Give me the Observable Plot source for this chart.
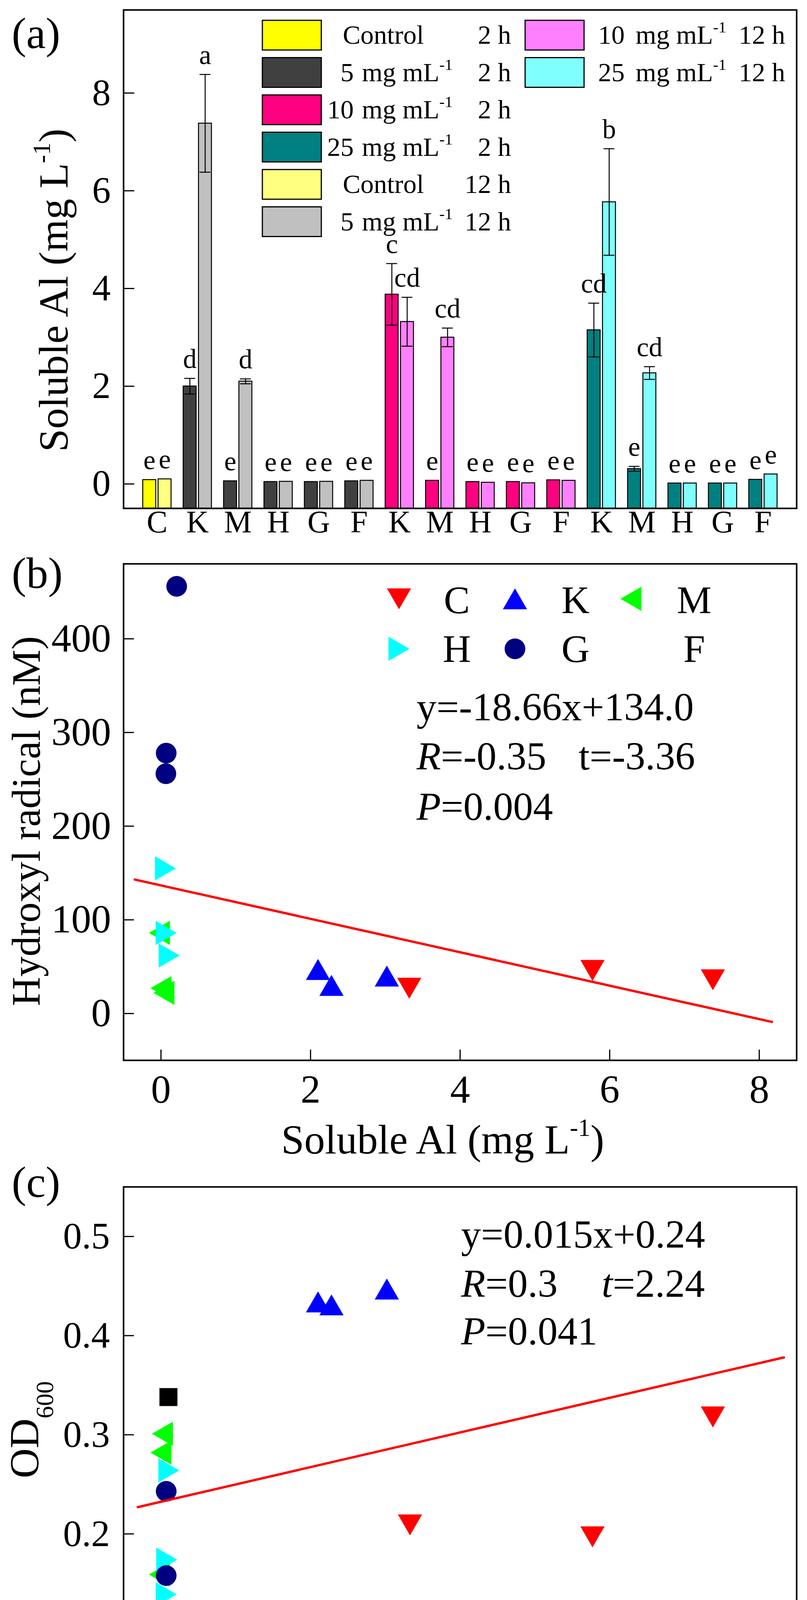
<!DOCTYPE html>
<html>
<head>
<meta charset="utf-8">
<script src="https://cdn.jsdelivr.net/npm/d3@7"></script>
<script src="https://cdn.jsdelivr.net/npm/@observablehq/plot@0.6"></script>
<style>
  body { margin: 0; background: white; }
  #chart { width: 2067px; background: white; }
  #chart svg { display: block; overflow: visible; }
</style>
</head>
<body>
<div id="chart"></div>
<script>
// ---------- (a) soluble Al, bars ----------
const groups = ["C", "K", "M", "H", "G", "F", "K", "M", "H", "G", "F", "K", "M", "H", "G", "F"];
const doses  = ["Control", "5", "5", "5", "5", "5", "10", "10", "10", "10", "10", "25", "25", "25", "25", "25"];
const al2h   = [0.085, 2.0, 0.06, 0.045, 0.045, 0.06, 3.88, 0.07, 0.045, 0.045, 0.08, 3.15, 0.31, 0.015, 0.015, 0.09];
const al12h  = [0.1, 7.38, 2.1, 0.05, 0.05, 0.07, 3.32, 3.0, 0.03, 0.02, 0.07, 5.77, 2.27, 0.015, 0.015, 0.2];
const sd2h   = [0, 0.16, 0, 0, 0, 0, 0.63, 0, 0, 0, 0, 0.55, 0.05, 0, 0, 0];
const sd12h  = [0, 1.0, 0.05, 0, 0, 0, 0.5, 0.19, 0, 0, 0, 1.09, 0.13, 0, 0, 0];
const sig2h  = ["e", "d", "e", "e", "e", "e", "c", "e", "e", "e", "e", "cd", "e", "e", "e", "e"];
const sig12h = ["e", "a", "d", "e", "e", "e", "cd", "cd", "e", "e", "e", "b", "cd", "e", "e", "e"];
const doseLevels = ["Control", "5", "10", "25"];
const times = ["2 h", "12 h"];
const colors2h  = ["#ffff00", "#404040", "#ff0080", "#008080"];
const colors12h = ["#ffff80", "#c0c0c0", "#ff80ff", "#80ffff"];
const yTicksA = [0, 2, 4, 6, 8];

// ---------- (b), (c) scatter ----------
const ptNames  = ["C", "K", "M", "H", "G", "F"];
const ptColors = ["#ff0000", "#0000ff", "#00ff00", "#00ffff", "#000080", "#000000"];
// hydroxyl radical (nM) vs soluble Al
const ohX = [[3.32, 5.77, 7.38], [2.1, 2.28, 3.02], [-0.02, 0.0, 0.04], [0.06, 0.07, 0.11], [0.21, 0.07, 0.066], []];
const ohY = [[27, 46, 36], [47, 30, 40], [86, 27, 22], [155, 86, 62], [456, 278, 256], []];
// OD600 vs soluble Al
const odX = [[3.33, 5.77, 7.38], [2.1, 2.28, 3.02], [0.02, 0.0, -0.02], [0.105, 0.077, 0.07], [0.07, 0.07, 0.21], [0.1]];
const odY = [[0.209, 0.197, 0.318], [0.434, 0.431, 0.447], [0.301, 0.282, 0.159], [0.264, 0.174, 0.139], [0.243, 0.158, 0.09], [0.338]];
// fitted lines, end points as drawn
const fitBx = [-0.35, 8.17], fitBy = [143, -9];
const fitCx = [-0.31, 8.33], fitCy = [0.227, 0.378];
const xTicksBC = [0, 2, 4, 6, 8];
const yTicksB = [0, 100, 200, 300, 400];
const yTicksC = [0.1, 0.2, 0.3, 0.4, 0.5];

// custom marker shapes (Origin style)
function tri(dir) {
  return {
    draw(ctx, size) {
      const r = Math.sqrt(size / Math.PI), s = 2.34 * r, h = 0.866 * s;
      if (dir === "up") { ctx.moveTo(0, -h / 2); ctx.lineTo(s / 2, h / 2); ctx.lineTo(-s / 2, h / 2); }
      if (dir === "down") { ctx.moveTo(0, h / 2); ctx.lineTo(s / 2, -h / 2); ctx.lineTo(-s / 2, -h / 2); }
      if (dir === "left") { ctx.moveTo(-h / 2, 0); ctx.lineTo(h / 2, -s / 2); ctx.lineTo(h / 2, s / 2); }
      if (dir === "right") { ctx.moveTo(h / 2, 0); ctx.lineTo(-h / 2, -s / 2); ctx.lineTo(-h / 2, s / 2); }
      ctx.closePath();
    }
  };
}
const roundSym = {draw(ctx, size) { const r = Math.sqrt(size / Math.PI); ctx.moveTo(r, 0); ctx.arc(0, 0, r, 0, 2 * Math.PI); }};
const squareSym = {draw(ctx, size) { const a = 1.74 * Math.sqrt(size / Math.PI); ctx.rect(-a / 2, -a / 2, a, a); }};
const ptSymbols = [tri("down"), tri("up"), tri("left"), tri("right"), roundSym, squareSym];
const dotR = 26.5;

const font = "Liberation Serif";
const W = 2067, mL = 316, mR = 27;
const plotW = W - mL - mR;
const plotStyle = {fontFamily: font, background: "transparent", color: "black", overflow: "visible"};

// text with italic / sup / sub pieces
function rich(sel, parts, size) {
  let shift = 0;
  parts.forEach(p => {
    const [str, kind] = typeof p === "string" ? [p, ""] : p;
    const t = sel.append("tspan").text(str);
    let target = 0;
    if (kind === "sup") target = -0.42 * size;
    if (kind === "sub") target = 0.36 * size;
    if (target !== shift) { t.attr("dy", target - shift); shift = target; }
    if (kind === "sup" || kind === "sub") t.attr("font-size", 0.6 * size);
    if (kind === "i") t.attr("font-style", "italic");
  });
}
function label(svg, x, y, parts, size, opts = {}) {
  const t = d3.select(svg).append("text")
    .attr("font-family", font)
    .attr("font-size", size)
    .attr("fill", "black")
    .attr("text-anchor", opts.anchor || "start")
    .style("white-space", "pre")
    .attr("transform", `translate(${x},${y})` + (opts.rotate ? " rotate(-90)" : ""));
  rich(t, parts, size);
  return t;
}

// ---------- panel (a) ----------
const hA = 1391, mTA = 25, mBA = 90;
const yDomA = [-0.5, 9.7];
const padIn = 0.3, padOut = 0.48;
const stepA = plotW / (groups.length - padIn + 2 * padOut);
const bandA = stepA * (1 - padIn);
const gapA = 6, capA = 28;
const barW = bandA / 2 - gapA / 2;
const shift = gapA / 2 + barW / 2;
const capIn = bandA / 2 - shift - capA / 2;
const capOut = bandA - capIn - capA;

const colorKeys = [], colorRange = [];
times.forEach((t, ti) => doseLevels.forEach((d, di) => {
  colorKeys.push(d + " " + t);
  colorRange.push(ti === 0 ? colors2h[di] : colors12h[di]);
}));

const rows2h = groups.map((g, i) => ({i, key: doses[i] + " 2 h", value: al2h[i], sd: sd2h[i], sig: sig2h[i]}));
const rows12h = groups.map((g, i) => ({i, key: doses[i] + " 12 h", value: al12h[i], sd: sd12h[i], sig: sig12h[i]}));
const err2h = rows2h.filter(d => d.sd > 0);
const err12h = rows12h.filter(d => d.sd > 0);

const chartA = Plot.plot({
  width: W, height: hA,
  marginLeft: mL, marginRight: mR, marginTop: mTA, marginBottom: mBA,
  style: plotStyle,
  x: {type: "band", domain: d3.range(groups.length), paddingInner: padIn, paddingOuter: padOut, round: false, axis: null},
  y: {domain: yDomA, axis: null},
  color: {domain: colorKeys, range: colorRange},
  marks: [
    Plot.barY(rows2h, {x: "i", y1: yDomA[0], y2: "value", fill: "key", stroke: "black", strokeWidth: 2.5, insetRight: bandA / 2 + gapA / 2}),
    Plot.barY(rows12h, {x: "i", y1: yDomA[0], y2: "value", fill: "key", stroke: "black", strokeWidth: 2.5, insetLeft: bandA / 2 + gapA / 2}),
    Plot.ruleX(err2h, {x: "i", y1: d => d.value - d.sd, y2: d => d.value + d.sd, dx: -shift, strokeWidth: 2.5}),
    Plot.ruleX(err12h, {x: "i", y1: d => d.value - d.sd, y2: d => d.value + d.sd, dx: shift, strokeWidth: 2.5}),
    Plot.tickY(err2h, {x: "i", y: d => d.value + d.sd, insetLeft: capIn, insetRight: capOut, strokeWidth: 2.5}),
    Plot.tickY(err2h, {x: "i", y: d => d.value - d.sd, insetLeft: capIn, insetRight: capOut, strokeWidth: 2.5}),
    Plot.tickY(err12h, {x: "i", y: d => d.value + d.sd, insetLeft: capOut, insetRight: capIn, strokeWidth: 2.5}),
    Plot.tickY(err12h, {x: "i", y: d => d.value - d.sd, insetLeft: capOut, insetRight: capIn, strokeWidth: 2.5}),
    Plot.text(rows2h, {x: "i", y: d => d.value + d.sd, text: "sig", dx: -shift, dy: -27, lineAnchor: "bottom", fontSize: 70}),
    Plot.text(rows12h, {x: "i", y: d => d.value + d.sd, text: "sig", dx: shift, dy: -27, lineAnchor: "bottom", fontSize: 70}),
    Plot.tickY(yTicksA, {y: d => d, insetRight: plotW - 28, strokeWidth: 3}),
    Plot.axisY(yTicksA, {tickSize: 0, tickPadding: 33, tickFormat: d3.format("~g"), fontSize: 95, label: null}),
    Plot.axisX({tickSize: 0, tickPadding: 5, tickFormat: i => groups[i], fontSize: 80, label: null}),
    Plot.frame({strokeWidth: 4})
  ]
});

// legend of (a): first six in one column, last two in a second
colorKeys.forEach((k, j) => {
  const col = j < 6 ? 0 : 1, row = j < 6 ? j : j - 6;
  const top = 52 + row * 95.5, base = top + 60;
  const [dose, ...rest] = k.split(" ");
  const time = rest.join(" ");
  d3.select(chartA).append("rect")
    .attr("x", col ? 1345 : 672).attr("y", top)
    .attr("width", 151).attr("height", 76)
    .attr("fill", colorRange[j]).attr("stroke", "black").attr("stroke-width", 3);
  if (dose === "Control") {
    label(chartA, 878, base, ["Control"], 68);
  } else {
    label(chartA, col ? 1600 : 906, base, [dose], 68, {anchor: "end"});
    label(chartA, col ? 1628 : 927, base, ["mg mL", ["-1", "sup"]], 68);
  }
  label(chartA, col ? 2011 : 1309, base, [time], 68, {anchor: "end"});
});
label(chartA, 30, 123, ["(a)"], 112);
label(chartA, 173, 743, ["Soluble Al (mg L", ["-1", "sup"], ")"], 106, {anchor: "middle", rotate: true});

// ---------- panels (b), (c) ----------
function scatter({height, marginTop, marginBottom, yDomain, yTicks, xs, ys, fitX, fitY, tickFont, tickPadX, tickPadY}) {
  const plotH = height - marginTop - marginBottom;
  const dots = ptNames.map((n, j) => Plot.dot(xs[j].map((x, k) => ({x, y: ys[j][k]})), {
    x: "x", y: "y", r: dotR, symbol: ptSymbols[j], fill: ptColors[j], stroke: "none"
  }));
  return Plot.plot({
    width: W, height,
    marginLeft: mL, marginRight: mR, marginTop, marginBottom,
    style: plotStyle,
    x: {domain: [-0.5, 8.5], axis: null},
    y: {domain: yDomain, axis: null},
    marks: [
      ...dots,
      Plot.line(fitX.map((x, k) => ({x, y: fitY[k]})), {x: "x", y: "y", stroke: "#ff0000", strokeWidth: 6}),
      Plot.tickY(yTicks, {y: d => d, insetRight: plotW - 27, strokeWidth: 3}),
      Plot.tickX(xTicksBC, {x: d => d, insetTop: plotH - 27, strokeWidth: 3}),
      Plot.axisY(yTicks, {tickSize: 0, tickPadding: tickPadY, tickFormat: d3.format("~g"), fontSize: tickFont, label: null}),
      Plot.axisX(xTicksBC, {tickSize: 0, tickPadding: tickPadX, tickFormat: d3.format("~g"), fontSize: tickFont, label: null}),
      Plot.frame({strokeWidth: 4})
    ]
  });
}

const chartB = scatter({
  height: 1584, marginTop: 52, marginBottom: 261,
  yDomain: [-50, 480], yTicks: yTicksB, xs: ohX, ys: ohY, fitX: fitBx, fitY: fitBy,
  tickFont: 102, tickPadX: 36, tickPadY: 32
});
// legend of (b)
ptNames.forEach((n, j) => {
  const col = j % 3, row = Math.floor(j / 3);
  if (ohX[j].length) {
    d3.select(chartB).append("path")
      .attr("d", d3.symbol(ptSymbols[j], Math.PI * dotR * dotR)())
      .attr("transform", `translate(${1022 + 297 * col},${142 + 128 * row})`)
      .attr("fill", ptColors[j]);
  }
  label(chartB, 1170 + 304 * col, 178 + 125 * row, [n], 100, {anchor: "middle"});
});
label(chartB, 1067, 453, ["y=-18.66x+134.0"], 102);
label(chartB, 1067, 579, [["R", "i"], "=-0.35"], 102);
label(chartB, 1482, 579, ["t=-3.36"], 102);
label(chartB, 1067, 708, [["P", "i"], "=0.004"], 102);
label(chartB, 30, 114, ["(b)"], 112);
label(chartB, 102, 711, ["Hydroxyl radical (nM)"], 104, {anchor: "middle", rotate: true});
label(chartB, 1134, 1562, ["Soluble Al (mg L", ["-1", "sup"], ")"], 106, {anchor: "middle"});

const chartC = scatter({
  height: 1623, marginTop: 63, marginBottom: 291,
  yDomain: [0.05, 0.55], yTicks: yTicksC, xs: odX, ys: odY, fitX: fitCx, fitY: fitCy,
  tickFont: 96, tickPadX: 40, tickPadY: 35
});
label(chartC, 1181, 219, ["y=0.015x+0.24"], 102);
label(chartC, 1181, 345, [["R", "i"], "=0.3"], 102);
label(chartC, 1541, 345, [["t", "i"], "=2.24"], 102);
label(chartC, 1181, 467, [["P", "i"], "=0.041"], 102);
label(chartC, 30, 89, ["(c)"], 112);
label(chartC, 98, 685, ["OD", ["600", "sub"]], 106, {anchor: "middle", rotate: true});
label(chartC, 1178, 1578, ["Soluble Al  (mg L", ["-1", "sup"], ")"], 106, {anchor: "middle"});

d3.select("#chart").append(() => chartA);
d3.select("#chart").append(() => chartB);
d3.select("#chart").append(() => chartC);
</script>
</body>
</html>
